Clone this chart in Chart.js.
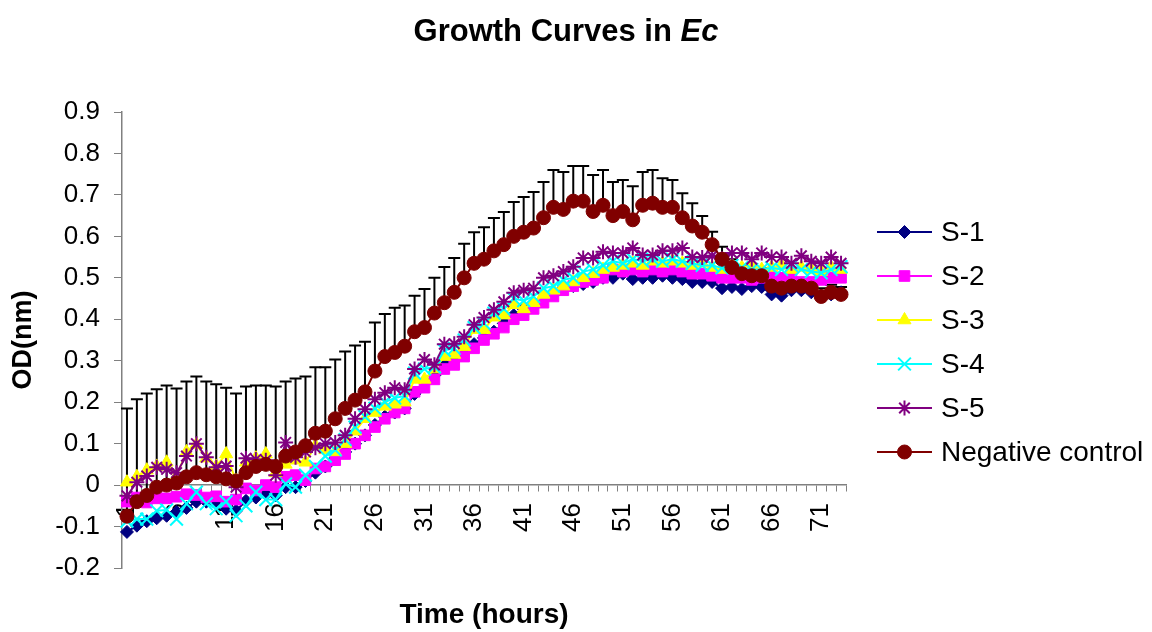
<!DOCTYPE html>
<html>
<head>
<meta charset="utf-8">
<title>Growth Curves in Ec</title>
<script src="https://cdn.jsdelivr.net/npm/chart.js@4"></script>
<style>
  html, body { margin: 0; padding: 0; background: #fff; }
  #wrap { position: relative; width: 1152px; height: 632px; }
  #title {
    position: absolute; left: 0; top: 13px; width: 1132px;
    text-align: center; font: bold 31px "Liberation Sans", Arial, sans-serif; color: #000;
  }
</style>
</head>
<body>
<div id="wrap">
  <canvas id="chart" width="1152" height="632" style="width:1152px;height:632px"></canvas>
  <div id="title">Growth Curves in <i>Ec</i></div>
</div>
<script>
// hours 1..73
const hours = Array.from({ length: 73 }, (_, i) => String(i + 1));

const s1 = [-0.113, -0.098, -0.087, -0.08, -0.074, -0.065, -0.055, -0.04, -0.04, -0.045,
  -0.057, -0.062, -0.038, -0.03, -0.022, -0.025, -0.005, -0.005, 0.01, 0.03,
  0.045, 0.065, 0.08, 0.1, 0.12, 0.145, 0.165, 0.175, 0.185, 0.22,
  0.25, 0.265, 0.29, 0.3, 0.32, 0.34, 0.355, 0.37, 0.39, 0.41,
  0.425, 0.435, 0.45, 0.46, 0.475, 0.48, 0.485, 0.49, 0.5, 0.5,
  0.51, 0.497, 0.5, 0.5, 0.505, 0.5, 0.497, 0.49, 0.49, 0.49,
  0.475, 0.478, 0.473, 0.48, 0.478, 0.46, 0.457, 0.47, 0.47, 0.465,
  0.457, 0.46, 0.465];

const s2 = [-0.04, -0.03, -0.042, -0.032, -0.032, -0.028, -0.022, -0.024, -0.03, -0.027,
  -0.04, -0.035, -0.008, -0.013, 0.0, -0.005, 0.02, 0.024, 0.012, 0.04,
  0.045, 0.06, 0.075, 0.1, 0.12, 0.14, 0.16, 0.175, 0.185, 0.225,
  0.235, 0.255, 0.28, 0.29, 0.31, 0.33, 0.35, 0.365, 0.38, 0.4,
  0.41, 0.425, 0.44, 0.455, 0.47, 0.48, 0.49, 0.495, 0.5, 0.52,
  0.515, 0.52, 0.515, 0.52, 0.515, 0.52, 0.515, 0.51, 0.51, 0.505,
  0.5, 0.5, 0.5, 0.495, 0.5, 0.505, 0.5, 0.505, 0.49, 0.49,
  0.495, 0.5, 0.5];

const s3 = [0.007, 0.02, 0.036, 0.045, 0.055, 0.022, 0.08, 0.098, 0.065, 0.045,
  0.075, 0.01, 0.055, 0.065, 0.075, 0.03, 0.05, 0.06, 0.055, 0.095,
  0.085, 0.08, 0.1, 0.13, 0.16, 0.175, 0.19, 0.195, 0.2, 0.255,
  0.255, 0.28, 0.31, 0.315, 0.334, 0.375, 0.375, 0.405, 0.41, 0.435,
  0.425, 0.44, 0.46, 0.47, 0.48, 0.49, 0.5, 0.51, 0.52, 0.525,
  0.53, 0.535, 0.53, 0.54, 0.535, 0.54, 0.535, 0.53, 0.535, 0.525,
  0.52, 0.53, 0.525, 0.53, 0.52, 0.525, 0.53, 0.52, 0.525, 0.52,
  0.515, 0.525, 0.52];

const s4 = [-0.087, -0.082, -0.082, -0.062, -0.06, -0.082, -0.045, -0.017, -0.045, -0.057,
  -0.04, -0.074, -0.05, -0.017, -0.035, -0.035, 0.003, -0.005, 0.024, 0.045,
  0.07, 0.085, 0.11, 0.14, 0.165, 0.185, 0.2, 0.21, 0.215, 0.27,
  0.28, 0.285, 0.325, 0.33, 0.35, 0.38, 0.39, 0.415, 0.425, 0.45,
  0.445, 0.455, 0.475, 0.48, 0.495, 0.5, 0.515, 0.52, 0.53, 0.54,
  0.535, 0.545, 0.54, 0.545, 0.54, 0.545, 0.54, 0.535, 0.53, 0.53,
  0.524, 0.53, 0.525, 0.52, 0.52, 0.524, 0.52, 0.53, 0.52, 0.515,
  0.512, 0.52, 0.527];

const s5 = [-0.026, 0.007, 0.022, 0.043, 0.038, 0.03, 0.07, 0.1, 0.067, 0.043,
  0.046, -0.005, 0.065, 0.062, 0.06, 0.024, 0.103, 0.067, 0.08, 0.09,
  0.1, 0.103, 0.12, 0.16, 0.183, 0.207, 0.223, 0.235, 0.23, 0.28,
  0.303, 0.29, 0.34, 0.341, 0.358, 0.387, 0.404, 0.423, 0.442, 0.464,
  0.47, 0.475, 0.5, 0.505, 0.515, 0.527, 0.548, 0.548, 0.563, 0.56,
  0.56, 0.572, 0.555, 0.555, 0.565, 0.565, 0.572, 0.55, 0.549, 0.553,
  0.546, 0.56, 0.56, 0.545, 0.56, 0.55, 0.55, 0.535, 0.553, 0.54,
  0.535, 0.55, 0.535];

const control = [-0.075, -0.04, -0.025, -0.005, 0.0, 0.005, 0.02, 0.03, 0.025, 0.02,
  0.015, 0.01, 0.03, 0.045, 0.05, 0.045, 0.07, 0.08, 0.095, 0.125,
  0.13, 0.16, 0.185, 0.205, 0.225, 0.275, 0.31, 0.32, 0.335, 0.37,
  0.38, 0.415, 0.44, 0.465, 0.5, 0.535, 0.545, 0.565, 0.58, 0.6,
  0.61, 0.62, 0.645, 0.67, 0.665, 0.685, 0.685, 0.66, 0.675, 0.65,
  0.66, 0.64, 0.675, 0.68, 0.67, 0.67, 0.645, 0.625, 0.61, 0.58,
  0.545, 0.525, 0.51, 0.505, 0.505, 0.48, 0.475, 0.48, 0.48, 0.475,
  0.455, 0.465, 0.46];

// upper error of the negative control
const controlErr = [0.26, 0.247, 0.246, 0.236, 0.24, 0.228, 0.23, 0.232, 0.225, 0.223,
  0.22, 0.211, 0.208, 0.195, 0.19, 0.193, 0.18, 0.177, 0.167, 0.159,
  0.154, 0.143, 0.137, 0.132, 0.121, 0.117, 0.103, 0.108, 0.098, 0.087,
  0.093, 0.085, 0.086, 0.083, 0.082, 0.075, 0.077, 0.079, 0.079, 0.083,
  0.085, 0.087, 0.086, 0.09, 0.09, 0.085, 0.085, 0.088, 0.085, 0.081,
  0.076, 0.081, 0.08, 0.08, 0.07, 0.066, 0.059, 0.055, 0.039, 0.031,
  0.03, 0.02, 0.02, 0.018, 0.018, 0.02, 0.02, 0.018, 0.018, 0.02,
  0.02, 0.018, 0.018];

const family = '"Liberation Sans", Arial, sans-serif';

function series(label, data, color, style, radius, order) {
  return {
    label, data, order,
    borderColor: color, backgroundColor: color,
    borderWidth: 2,
    pointStyle: style, pointRadius: radius,
    pointBackgroundColor: color, pointBorderColor: color, pointBorderWidth: style === 'crossRot' || style === 'star' ? 2 : 1,
    tension: 0, fill: false
  };
}

const datasets = [
  series('S-1', s1, '#000080', 'rectRot', 6.5, 6),
  series('S-2', s2, '#FF00FF', 'rect', 7.5, 5),
  series('S-3', s3, '#FFFF00', 'triangle', 7.5, 4),
  series('S-4', s4, '#00FFFF', 'crossRot', 9, 3),
  series('S-5', s5, '#800080', 'star', 7.5, 2),
  series('Negative control', control, '#800000', 'circle', 7, 1)
];

const errorBars = {
  id: 'errorBars',
  beforeDatasetsDraw(chart) {
    const meta = chart.getDatasetMeta(5);
    const y = chart.scales.y;
    const ctx = chart.ctx;
    ctx.save();
    ctx.strokeStyle = '#000';
    ctx.lineWidth = 2;
    meta.data.forEach((pt, i) => {
      const top = y.getPixelForValue(control[i] + controlErr[i]);
      ctx.beginPath();
      ctx.moveTo(pt.x, pt.y);
      ctx.lineTo(pt.x, top);
      ctx.moveTo(pt.x - 6, top);
      ctx.lineTo(pt.x + 6, top);
      ctx.stroke();
    });
    ctx.restore();
  }
};

const sideLegend = {
  id: 'sideLegend',
  afterDraw(chart) {
    const ctx = chart.ctx;
    ctx.save();
    chart.data.datasets.forEach((ds, i) => {
      const y = 232 + i * 44;
      ctx.strokeStyle = ds.borderColor;
      ctx.lineWidth = 2;
      ctx.beginPath();
      ctx.moveTo(877, y);
      ctx.lineTo(932, y);
      ctx.stroke();
      ctx.fillStyle = ds.pointBackgroundColor;
      ctx.strokeStyle = ds.pointBorderColor;
      ctx.lineWidth = ds.pointBorderWidth;
      Chart.helpers.drawPoint(ctx, {
        pointStyle: ds.pointStyle, radius: ds.pointRadius, rotation: 0, borderWidth: ds.pointBorderWidth
      }, 904.5, y);
      ctx.fillStyle = '#000';
      ctx.font = '28px ' + family;
      ctx.textBaseline = 'middle';
      ctx.textAlign = 'left';
      ctx.fillText(ds.label, 941, y + 1);
    });
    ctx.restore();
  }
};

new Chart(document.getElementById('chart'), {
  type: 'line',
  data: { labels: hours, datasets },
  options: {
    responsive: false,
    animation: false,
    layout: { padding: { top: 112, right: 306, left: 0, bottom: 0 } },
    plugins: {
      legend: { display: false },
      tooltip: { enabled: false },
      title: { display: false }
    },
    scales: {
      x: {
        position: { y: 0 },
        offset: true,
        grid: { offset: true, drawOnChartArea: false, tickLength: 6, color: '#808080', lineWidth: 1 },
        border: { color: '#808080', width: 1.5 },
        ticks: {
          autoSkip: false, minRotation: 90, maxRotation: 90, padding: 12,
          color: '#000', font: { size: 26, family },
          callback(v, i) { return i % 5 === 0 ? this.getLabelForValue(v) : ''; }
        }
      },
      x2: {
        type: 'category',
        position: 'bottom',
        grid: { display: false },
        border: { display: false },
        ticks: { display: false },
        title: {
          display: true, text: 'Time (hours)', color: '#000',
          font: { size: 28, weight: 'bold', family }, padding: { top: 0, bottom: 0 }
        },
        afterFit(s) { s.height = 64; }
      },
      y: {
        min: -0.2, max: 0.9,
        ticks: {
          stepSize: 0.1, padding: 14, color: '#000', font: { size: 26, family },
          callback: v => String(Math.round(v * 10) / 10)
        },
        grid: { drawOnChartArea: false, tickLength: 8, color: '#808080' },
        border: { color: '#808080', width: 1.5 },
        title: {
          display: true, text: 'OD(nm)', color: '#000',
          font: { size: 27, weight: 'bold', family }, padding: { top: 7 }
        },
        afterFit(s) { s.width = 122; }
      }
    }
  },
  plugins: [errorBars, sideLegend]
});
</script>
</body>
</html>
